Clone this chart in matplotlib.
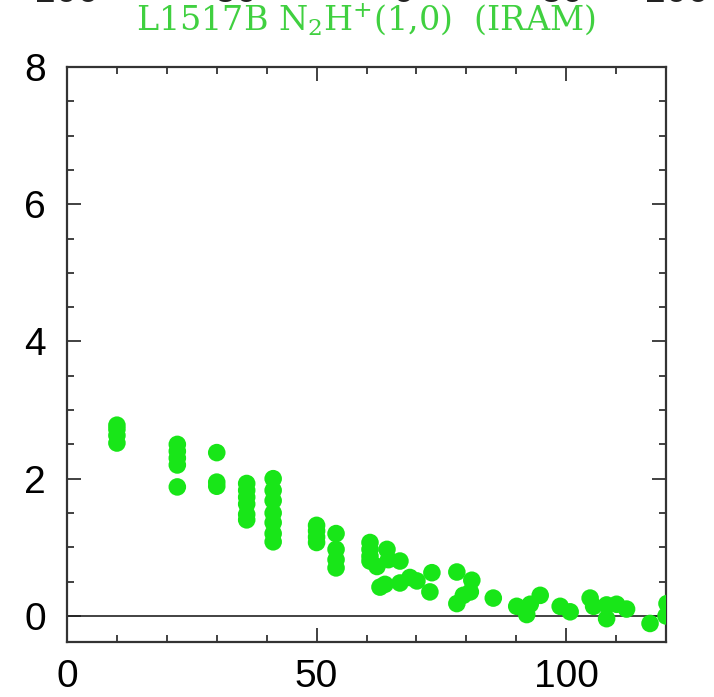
import matplotlib
matplotlib.use("Agg")
import matplotlib.pyplot as plt
from matplotlib.ticker import MultipleLocator

# offset (arcsec) vs integrated intensity
offset = [10.0, 10.0, 10.0, 10.0,
          22.1, 22.1, 22.1, 22.1, 22.1,
          30.0, 30.0, 30.0,
          36.0, 36.0, 36.0, 36.0, 36.0, 36.0,
          41.3, 41.3, 41.3, 41.3, 41.3, 41.3, 41.3,
          50.0, 50.0, 50.0, 50.0,
          53.9, 53.9, 53.9, 53.9,
          60.7, 60.7, 60.7, 60.7, 62.1, 62.7,
          64.1, 64.4, 63.7, 66.7, 66.7, 68.7, 70.1,
          73.1, 72.7, 78.1, 81.1, 80.8, 78.1, 79.4,
          85.4, 90.1, 92.1, 92.8, 94.8, 98.8, 100.8,
          104.8, 105.5, 108.1, 108.1, 110.1, 112.1,
          116.8, 120.2, 120.0]
intensity = [2.78, 2.72, 2.63, 2.52,
             2.5, 2.4, 2.3, 2.2, 1.88,
             2.38, 1.95, 1.89,
             1.93, 1.83, 1.73, 1.63, 1.48, 1.4,
             2.0, 1.83, 1.68, 1.5, 1.36, 1.2, 1.08,
             1.32, 1.24, 1.15, 1.07,
             1.2, 0.97, 0.82, 0.7,
             1.07, 0.97, 0.87, 0.8, 0.72, 0.42,
             0.97, 0.82, 0.46, 0.8, 0.48, 0.56, 0.51,
             0.63, 0.35, 0.64, 0.52, 0.35, 0.18, 0.3,
             0.26, 0.14, 0.02, 0.17, 0.3, 0.14, 0.06,
             0.26, 0.14, -0.04, 0.16, 0.17, 0.1,
             -0.11, 0.18, 0.0]

title = r"L1517B N$_2$H$^{+}$(1,0)  (IRAM)"
top_labels = ["100", "50", "0", "50", "100"]
top_label_x = [66, 236, 403, 562, 676]

fig = plt.figure(figsize=(7.14, 6.97), dpi=100)
ax = fig.add_axes([67/714, 1-642/697, 599/714, 575/697])

ax.scatter(offset, intensity, s=160, color="#18e618", edgecolors="none", zorder=3)
ax.axhline(0, color="#222222", lw=1.2, zorder=2)

ax.set_xlim(0, 120)
ax.set_ylim(-0.38, 8)
ax.xaxis.set_major_locator(MultipleLocator(50))
ax.xaxis.set_minor_locator(MultipleLocator(10))
ax.yaxis.set_major_locator(MultipleLocator(2))
ax.yaxis.set_minor_locator(MultipleLocator(0.5))
ax.tick_params(which="both", direction="in", top=True, right=True, width=1.3, color="#333333")
ax.tick_params(which="major", length=10, labelsize=28)
ax.tick_params(which="minor", length=5)
ax.tick_params(axis="x", which="major", pad=12)
ax.tick_params(axis="y", which="major", pad=15)
for lab in ax.get_xticklabels() + ax.get_yticklabels():
    lab.set_family("Liberation Sans")
for sp in ax.spines.values():
    sp.set_linewidth(1.6)
    sp.set_color("#333333")

fig.text(366/714, 1-20/697, title, ha="center", va="center", color="#40d040",
         fontsize=24, family="DejaVu Serif", math_fontfamily="dejavuserif")

# bottoms of the labels of the panel above (cut by the frame edge)
for xp, lab in zip(top_label_x, top_labels):
    fig.text(xp/714, 1-2/697, lab, ha="center", va="baseline", fontsize=28,
             family="Liberation Sans", color="#222222")

fig.savefig("out.png", dpi=100)
